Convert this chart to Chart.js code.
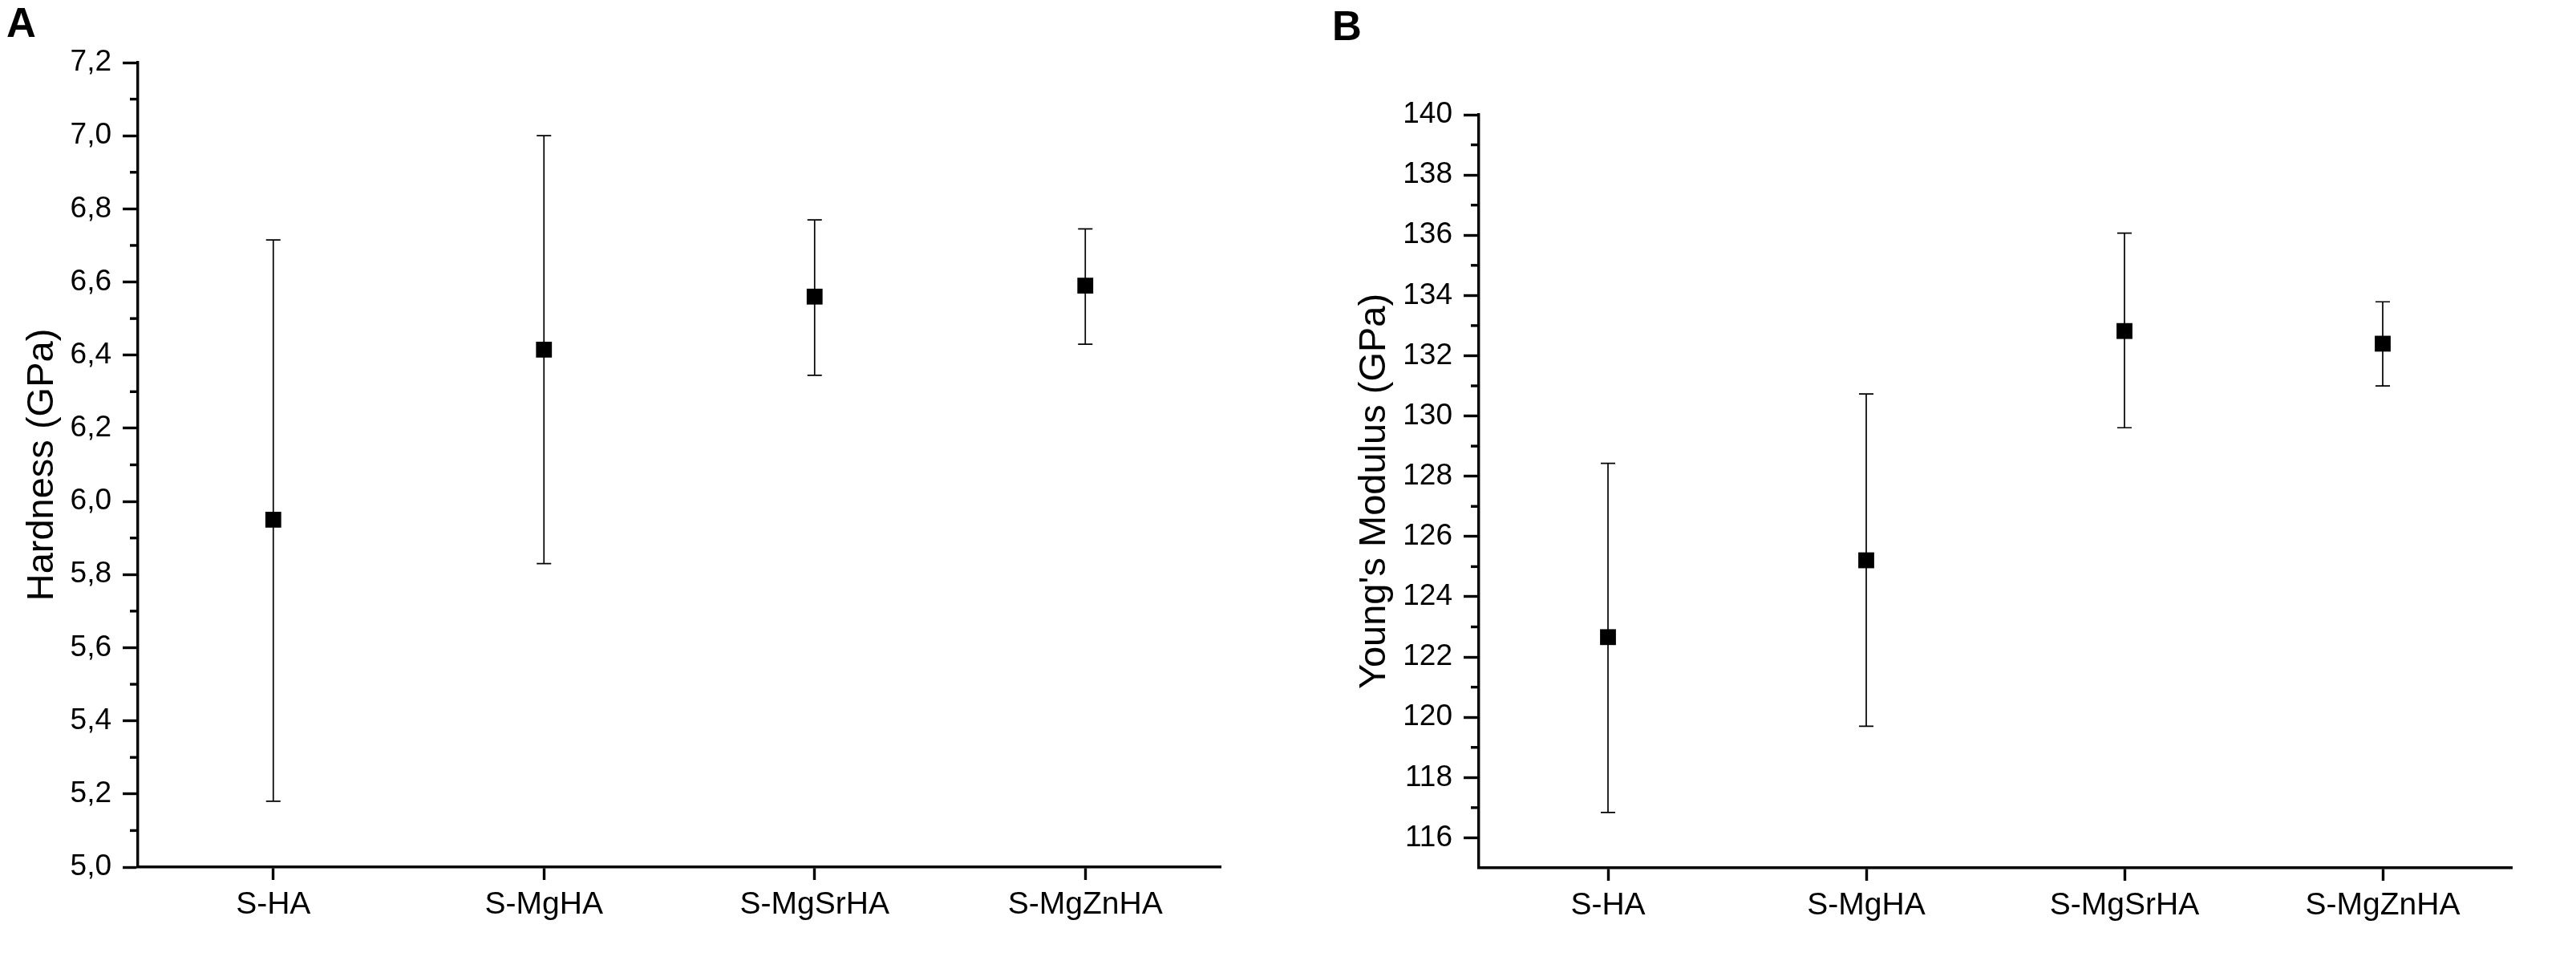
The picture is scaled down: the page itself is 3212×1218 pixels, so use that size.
<!DOCTYPE html>
<html>
<head>
<meta charset="utf-8">
<script src="https://cdn.jsdelivr.net/npm/chart.js@4.4.1/dist/chart.umd.min.js"></script>
<style>
  html, body { margin: 0; padding: 0; background: #fff; }
  #page { position: relative; width: 3212px; height: 1218px; background: #fff; }
  .panel { position: absolute; top: 0; width: 1606px; height: 1218px; }
  .tag { position: absolute; font: bold 51px 'Liberation Sans', Arial, sans-serif; line-height: 1; color: #000; }
</style>
</head>
<body>
<div id="page">
  <div class="tag" style="left:8px; top:3px;">A</div>
  <div class="tag" style="left:1661px; top:7px;">B</div>
  <div class="panel" style="left:0px;"><canvas id="hardnessChart"></canvas></div>
  <div class="panel" style="left:1606px;"><canvas id="modulusChart"></canvas></div>
</div>
<script>
// Sample names on the x axis
const samples = ['S-HA', 'S-MgHA', 'S-MgSrHA', 'S-MgZnHA'];

// Panel A - hardness (GPa), mean and error bar ends
const hardnessMean = [5.95, 6.415, 6.56, 6.59];
const hardnessUpper = [6.715, 7.0, 6.77, 6.745];
const hardnessLower = [5.18, 5.83, 6.345, 6.43];
const hardnessTicks = [5.0, 5.2, 5.4, 5.6, 5.8, 6.0, 6.2, 6.4, 6.6, 6.8, 7.0, 7.2];

// Panel B - Young's modulus (GPa), mean and error bar ends
const modulusMean = [122.66, 125.21, 132.82, 132.40];
const modulusUpper = [128.43, 130.73, 136.07, 133.79];
const modulusLower = [116.84, 119.70, 129.61, 131.00];
const modulusTicks = [116, 118, 120, 122, 124, 126, 128, 130, 132, 134, 136, 138, 140];

Chart.defaults.font.family = "'Liberation Sans', Arial, sans-serif";
Chart.defaults.color = '#000';

// Draw the vertical error bars with caps, behind the square markers
const errorBarPlugin = {
    id: 'errorBars',
    beforeDatasetsDraw(chart) {
        const ds = chart.data.datasets[0];
        const xs = chart.scales.x;
        const ys = chart.scales.y;
        const ctx = chart.ctx;
        ctx.save();
        ctx.strokeStyle = '#000';
        ctx.lineWidth = 1.7;
        ds.upper.forEach((hi, i) => {
            const px = xs.getPixelForValue(i);
            const top = ys.getPixelForValue(hi);
            const bot = ys.getPixelForValue(ds.lower[i]);
            ctx.beginPath();
            ctx.moveTo(px, top);
            ctx.lineTo(px, bot);
            ctx.moveTo(px - 9, top);
            ctx.lineTo(px + 9, top);
            ctx.moveTo(px - 9, bot);
            ctx.lineTo(px + 9, bot);
            ctx.stroke();
        });
        ctx.restore();
    }
};

// Minor ticks half way between the major ones on the y axis
const minorTickPlugin = {
    id: 'minorTicks',
    afterDraw(chart) {
        const ys = chart.scales.y;
        const vals = ys.ticks.map(t => t.value);
        const left = chart.chartArea.left;
        const ctx = chart.ctx;
        ctx.save();
        ctx.strokeStyle = '#000';
        ctx.lineWidth = 3.4;
        for (let i = 0; i < vals.length - 1; i++) {
            const py = ys.getPixelForValue((vals[i] + vals[i + 1]) / 2);
            ctx.beginPath();
            ctx.moveTo(left - 10, py);
            ctx.lineTo(left, py);
            ctx.stroke();
        }
        ctx.restore();
    }
};

function makeChart(id, mean, upper, lower, tickValues, yMin, yMax, title, box, titlePad, labelFmt) {
    const ctx = document.getElementById(id).getContext('2d');
    return new Chart(ctx, {
        type: 'line',
        data: {
            labels: samples,
            datasets: [{
                data: mean,
                upper: upper,
                lower: lower,
                showLine: false,
                pointStyle: 'rect',
                pointRadius: 14,
                pointHoverRadius: 14,
                pointBorderWidth: 0,
                backgroundColor: '#000',
                borderColor: '#000'
            }]
        },
        options: {
            responsive: true,
            maintainAspectRatio: false,
            animation: false,
            devicePixelRatio: 1,
            layout: { padding: { left: 0, top: box.top, right: 1606 - box.right, bottom: 0 } },
            plugins: { legend: { display: false }, tooltip: { enabled: false } },
            scales: {
                x: {
                    type: 'category',
                    offset: true,
                    grid: { display: true, drawOnChartArea: false, drawTicks: true, tickLength: 16, tickWidth: 3.4, tickColor: '#000', offset: false },
                    border: { display: true, color: '#000', width: 3.4 },
                    ticks: { color: '#000', font: { size: 39 }, padding: 8, maxRotation: 0, autoSkip: false },
                    afterFit: s => { s.height = 1218 - box.bottom; }
                },
                y: {
                    type: 'linear',
                    min: yMin,
                    max: yMax,
                    afterBuildTicks: s => { s.ticks = tickValues.map(v => ({ value: v })); },
                    grid: { display: true, drawOnChartArea: false, drawTicks: true, tickLength: 19, tickWidth: 3.4, tickColor: '#000' },
                    border: { display: true, color: '#000', width: 3.4 },
                    ticks: { color: '#000', font: { size: 37 }, padding: 14, callback: v => labelFmt(v) },
                    title: { display: true, text: title, color: '#000', font: { size: 47 }, padding: { top: titlePad, bottom: 0 } },
                    afterFit: s => { s.width = box.left; }
                }
            }
        },
        plugins: [errorBarPlugin, minorTickPlugin]
    });
}

makeChart('hardnessChart', hardnessMean, hardnessUpper, hardnessLower, hardnessTicks, 5.0, 7.2,
    'Hardness (GPa)', { left: 172, top: 78, right: 1522, bottom: 1081 }, 25,
    v => v.toFixed(1).replace('.', ','));

makeChart('modulusChart', modulusMean, modulusUpper, modulusLower, modulusTicks, 115, 140,
    "Young's Modulus (GPa)", { left: 238, top: 143, right: 1526, bottom: 1082 }, 80,
    v => String(v));
</script>
</body>
</html>
